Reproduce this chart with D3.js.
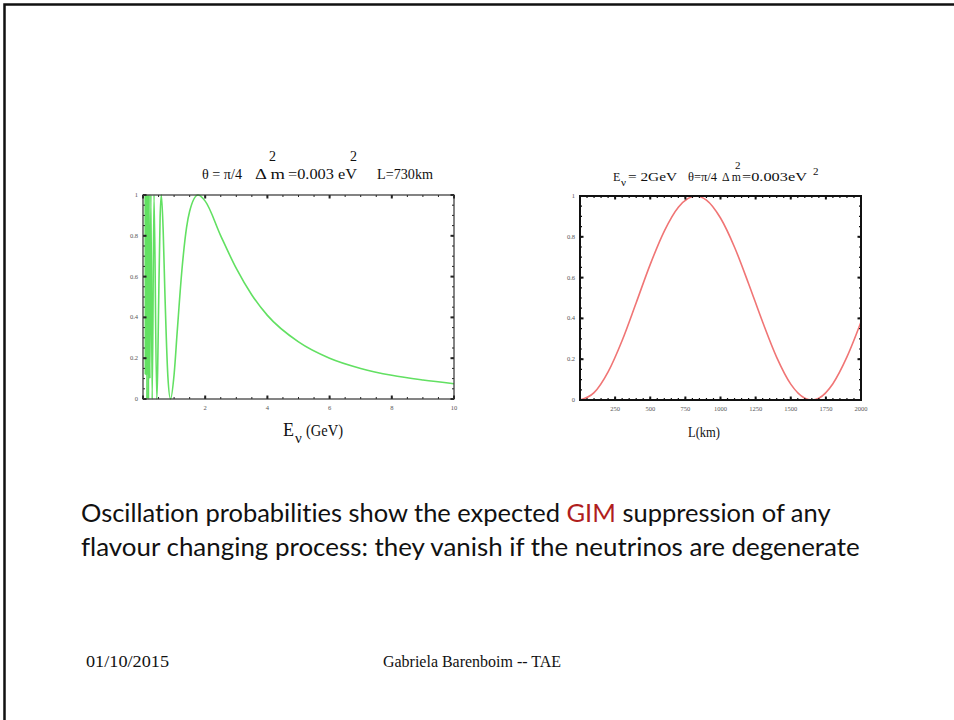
<!DOCTYPE html>
<html>
<head>
<meta charset="utf-8">
<script src="https://cdn.jsdelivr.net/npm/d3@7"></script>
<style>
  html, body { margin: 0; padding: 0; background: white; }
  svg { display: block; }
</style>
</head>
<body>
<div id="slide"></div>
<script>
// values
// left panel: probability vs neutrino energy (GeV), L = 730 km
const energyGeV = [0.0708, 0.0738, 0.0770, 0.0805, 0.0843, 0.0885, 0.0932, 0.0984, 0.1041, 0.1107,
  0.1180, 0.1265, 0.1362, 0.1476, 0.1610, 0.1771, 0.1967, 0.2213, 0.2529, 0.2951,
  0.3541, 0.4427, 0.47, 0.50, 0.55, 0.5902, 0.65, 0.70, 0.80, 0.8853,
  1.0, 1.1, 1.25, 1.4, 1.5, 1.77, 2.0, 2.5, 3.0, 3.5, 4.0, 5.0, 6.0, 7.0, 8.0, 9.0, 10.0];
const probVsEnergy = [1, 0.12, 1, 0.12, 1, 0.12, 1, 0.12, 1, 0.12,
  1, 0, 1, 0.12, 1, 0, 1, 0.1, 1, 0,
  1, 0, 0.13, 0.44, 0.89, 1, 0.82, 0.54, 0.11, 0,
  0.12, 0.33, 0.63, 0.84, 0.92, 1, 0.97, 0.80, 0.64, 0.51, 0.41, 0.28, 0.20, 0.15, 0.116, 0.093, 0.075];

// right panel: probability vs baseline (km), E = 2 GeV
const baselineKm = [0, 100, 200, 300, 400, 500, 600, 700, 824, 900, 1000, 1100, 1200, 1300,
  1400, 1500, 1600, 1649, 1700, 1800, 1900, 2000];
const probVsBaseline = [0, 0.036, 0.138, 0.292, 0.477, 0.665, 0.828, 0.945, 1, 0.98, 0.892, 0.749,
  0.57, 0.382, 0.209, 0.078, 0.009, 0, 0.009, 0.08, 0.211, 0.382];

// ticks
const energyTicks = [2, 4, 6, 8, 10];
const baselineTicks = [250, 500, 750, 1000, 1250, 1500, 1750, 2000];
const probTicks = [0, 0.2, 0.4, 0.6, 0.8, 1];

const W = 954, H = 720;
const svg = d3.select("#slide").append("svg")
  .attr("width", W).attr("height", H)
  .attr("viewBox", [0, 0, W, H]);

// slide frame (top and left edges visible)
svg.append("path")
  .attr("d", `M4.5,${H} L4.5,4.5 L${W},4.5`)
  .attr("fill", "none")
  .attr("stroke", "#111")
  .attr("stroke-width", 2.5);

const serif = "'Liberation Serif', 'Times New Roman', serif";

// draws a mathematica-style frame with inward ticks on all sides
function framePanel(g, x, y, o) {
  const [x0, x1] = x.range();
  const [y0, y1] = y.range(); // y0 bottom, y1 top

  const minorX = d3.range(x.domain()[0], x.domain()[1] + 1e-9, o.minorXStep);
  const minorY = d3.range(0, 1 + 1e-9, 0.05);
  const majorX = [x.domain()[0]].concat(o.xTicks);

  const tickG = g.append("g").attr("stroke", o.tickColor);
  // minor ticks
  minorX.forEach((v) => {
    tickG.append("line").attr("x1", x(v)).attr("x2", x(v)).attr("y1", y0).attr("y2", y0 - 2).attr("stroke-width", o.minorW);
    tickG.append("line").attr("x1", x(v)).attr("x2", x(v)).attr("y1", y1).attr("y2", y1 + 2).attr("stroke-width", o.minorW);
  });
  minorY.forEach((v) => {
    tickG.append("line").attr("y1", y(v)).attr("y2", y(v)).attr("x1", x0).attr("x2", x0 + 2).attr("stroke-width", o.minorW);
    tickG.append("line").attr("y1", y(v)).attr("y2", y(v)).attr("x1", x1).attr("x2", x1 - 2).attr("stroke-width", o.minorW);
  });
  // major ticks
  majorX.forEach((v) => {
    tickG.append("line").attr("x1", x(v)).attr("x2", x(v)).attr("y1", y0).attr("y2", y0 - 3.5).attr("stroke-width", o.majorW);
    tickG.append("line").attr("x1", x(v)).attr("x2", x(v)).attr("y1", y1).attr("y2", y1 + 3.5).attr("stroke-width", o.majorW);
  });
  probTicks.forEach((v) => {
    tickG.append("line").attr("y1", y(v)).attr("y2", y(v)).attr("x1", x0).attr("x2", x0 + 3.5).attr("stroke-width", o.majorW);
    tickG.append("line").attr("y1", y(v)).attr("y2", y(v)).attr("x1", x1).attr("x2", x1 - 3.5).attr("stroke-width", o.majorW);
  });

  // frame
  g.append("rect")
    .attr("x", x0).attr("y", y1)
    .attr("width", x1 - x0).attr("height", y0 - y1)
    .attr("fill", "none")
    .attr("stroke", o.frameColor)
    .attr("stroke-width", o.frameW);

  // tick labels
  g.append("g").selectAll("text")
    .data(o.xTicks)
    .join("text")
    .attr("x", (d) => x(d))
    .attr("y", y0 + 11)
    .attr("text-anchor", "middle")
    .attr("font-family", serif)
    .attr("font-size", 6.5)
    .attr("fill", "#555")
    .text((d) => d);

  g.append("g").selectAll("text")
    .data(probTicks)
    .join("text")
    .attr("x", x0 - 5)
    .attr("y", (d) => y(d) + 2)
    .attr("text-anchor", "end")
    .attr("font-family", serif)
    .attr("font-size", 6.5)
    .attr("fill", "#555")
    .text((d) => d);
}

// text piece stretched to the width it has in the slide
function piece(g, str, x, y, size, width) {
  const t = g.append("text").attr("x", x).attr("y", y).attr("font-size", size).text(str);
  if (width) t.attr("textLength", width).attr("lengthAdjust", "spacingAndGlyphs");
  return t;
}

// ---- left panel ----
const xE = d3.scaleLinear().domain([0, 10]).range([143, 454]);
const yE = d3.scaleLinear().domain([0, 1]).range([399, 195]);
const gL = svg.append("g");

const lineE = d3.line()
  .x((d, i) => xE(energyGeV[i]))
  .y((d) => yE(d))
  .curve(d3.curveMonotoneX);

gL.append("path")
  .datum(probVsEnergy)
  .attr("d", lineE)
  .attr("fill", "none")
  .attr("stroke", "#62e062")
  .attr("stroke-width", 1.6);

framePanel(gL, xE, yE, {
  xTicks: energyTicks, minorXStep: 0.5,
  tickColor: "#222", frameColor: "#333", frameW: 1.2, majorW: 2, minorW: 1
});

// left title
const tL = gL.append("g").attr("font-family", serif).attr("fill", "#111");
piece(tL, "θ = π/4", 202, 179, 15, 40);
piece(tL, "Δ m", 255, 179, 15, 30);
piece(tL, "2", 269, 161, 14);
piece(tL, "=0.003 eV", 288, 179, 15, 69);
piece(tL, "2", 350, 161, 14);
piece(tL, "L=730km", 377, 179, 15, 56);

// left x label
const xlL = gL.append("g").attr("font-family", serif).attr("fill", "#111");
piece(xlL, "E", 283, 436, 18);
piece(xlL, "ν", 295, 443, 15);
piece(xlL, "(GeV)", 306, 436, 16, 37);

// ---- right panel ----
const xL = d3.scaleLinear().domain([0, 2000]).range([580, 861]);
const yL = d3.scaleLinear().domain([0, 1]).range([400, 196]);
const gR = svg.append("g");

const lineL = d3.line()
  .x((d, i) => xL(baselineKm[i]))
  .y((d) => yL(d))
  .curve(d3.curveMonotoneX);

gR.append("path")
  .datum(probVsBaseline)
  .attr("d", lineL)
  .attr("fill", "none")
  .attr("stroke", "#f07575")
  .attr("stroke-width", 1.6);

framePanel(gR, xL, yL, {
  xTicks: baselineTicks, minorXStep: 50,
  tickColor: "#111", frameColor: "#111", frameW: 2, majorW: 2, minorW: 1.2
});

// right title
const tR = gR.append("g").attr("font-family", serif).attr("fill", "#111");
piece(tR, "E", 613, 181, 12);
piece(tR, "ν", 621, 186, 11);
piece(tR, "= 2GeV", 628, 181, 12, 49);
piece(tR, "θ=π/4", 688, 181, 12, 29);
piece(tR, "Δ m", 722, 181, 12, 19);
piece(tR, "2", 735, 169, 11);
piece(tR, "=0.003eV", 742, 181, 12, 65);
piece(tR, "2", 813, 175, 11);

piece(gR.append("g").attr("font-family", serif).attr("fill", "#111"), "L(km)", 688, 437, 15, 32);

// ---- slide text ----
const sans = "Lato, 'Noto Sans', sans-serif";
const p1 = svg.append("text")
  .attr("x", 81).attr("y", 522)
  .attr("font-family", sans).attr("font-size", 24).attr("fill", "#111")
  .style("font-variant-ligatures", "none");
p1.append("tspan").text("Oscillation probabilities show the expected ");
p1.append("tspan").attr("fill", "#b01e1e").text("GIM");
p1.append("tspan").text(" suppression of any");

const p2 = svg.append("text")
  .attr("x", 81).attr("y", 556)
  .attr("font-family", sans).attr("font-size", 24).attr("fill", "#111")
  .style("font-variant-ligatures", "none")
  .text("flavour changing process: they vanish if the neutrinos are degenerate");

// fit line widths to the slide
p1.attr("font-size", 24 * (831 - 81) / p1.node().getComputedTextLength());
p2.attr("font-size", 24 * (860 - 81) / p2.node().getComputedTextLength());

// footer
const foot = svg.append("g").attr("font-family", serif).attr("fill", "#111");
piece(foot, "01/10/2015", 86, 667, 17, 83);
piece(foot, "Gabriela Barenboim -- TAE", 383, 667, 17, 178);
</script>
</body>
</html>
